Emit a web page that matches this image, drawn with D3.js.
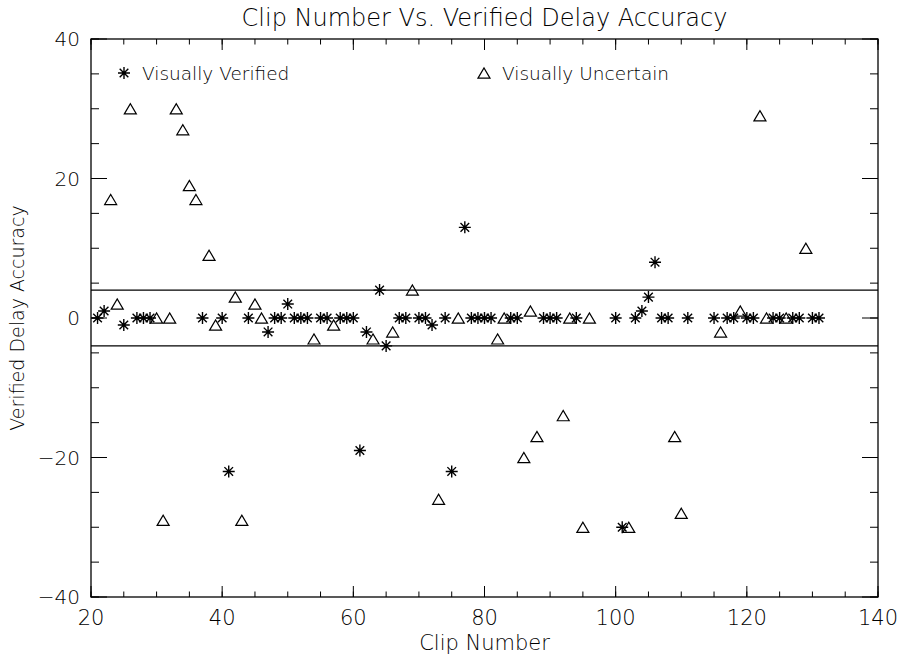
<!DOCTYPE html>
<html>
<head>
<meta charset="utf-8">
<script src="https://cdn.jsdelivr.net/npm/d3@7/dist/d3.min.js"></script>
<style>
  body { margin: 0; background: #fff; }
  text { font-family: "DejaVu Sans", sans-serif; font-weight: 200; fill: #000; }
</style>
</head>
<body>
<div id="chart"></div>
<script>
// clip numbers and delay accuracy
var verifiedClips = [21, 22, 25, 27, 28, 29, 37, 40, 41, 44, 47, 48, 49, 50, 51, 52, 53, 55, 56, 58, 59, 60,
  61, 62, 64, 65, 67, 68, 70, 71, 72, 74, 75, 77, 78, 79, 80, 81, 84, 85, 89, 90, 91, 94, 100, 101,
  103, 104, 105, 106, 107, 108, 111, 115, 117, 118, 120, 121, 124, 125, 127, 128, 130, 131];
var verifiedDelay = [0, 1, -1, 0, 0, 0, 0, 0, -22, 0, -2, 0, 0, 2, 0, 0, 0, 0, 0, 0, 0, 0,
  -19, -2, 4, -4, 0, 0, 0, 0, -1, 0, -22, 13, 0, 0, 0, 0, 0, 0, 0, 0, 0, 0, 0, -30,
  0, 1, 3, 8, 0, 0, 0, 0, 0, 0, 0, 0, 0, 0, 0, 0, 0, 0];

var uncertainClips = [23, 24, 26, 30, 31, 32, 33, 34, 35, 36, 38, 39, 42, 43, 45, 46, 54, 57, 63, 66, 69,
  73, 76, 82, 83, 86, 87, 88, 92, 93, 95, 96, 102, 109, 110, 116, 119, 122, 123, 126, 129];
var uncertainDelay = [17, 2, 30, 0, -29, 0, 30, 27, 19, 17, 9, -1, 3, -29, 2, 0, -3, -1, -3, -2, 4,
  -26, 0, -3, 0, -20, 1, -17, -14, 0, -30, 0, -30, -17, -28, -2, 1, 29, 0, 0, 10];

var xTicks = [20, 40, 60, 80, 100, 120, 140];
var yTicks = [-40, -20, 0, 20, 40];
var bandLimits = [-4, 4];
var legendLabels = ["Visually Verified", "Visually Uncertain"];

var W = 901, H = 658,
  margin = {top: 39, right: 23, bottom: 61, left: 91},
  width = W - margin.left - margin.right,
  height = H - margin.top - margin.bottom;

var svg = d3.select("#chart").append("svg")
  .attr("width", W)
  .attr("height", H);

var g = svg.append("g")
  .attr("transform", "translate(" + margin.left + "," + margin.top + ")");

var x = d3.scaleLinear().domain([20, 140]).range([0, width]);
var y = d3.scaleLinear().domain([-40, 40]).range([height, 0]);

var minorX = d3.range(20, 141, 5), minorY = d3.range(-40, 41, 5);

// frame
g.append("rect")
  .attr("width", width).attr("height", height)
  .attr("fill", "none").attr("stroke", "#000").attr("stroke-width", 1.3);

// inward ticks on all four sides
function tickLines(vals, isX, pos, len) {
  g.append("g").selectAll("line")
    .data(vals)
    .enter().append("line")
      .attr("x1", function(d) { return isX ? x(d) : pos; })
      .attr("x2", function(d) { return isX ? x(d) : pos + len; })
      .attr("y1", function(d) { return isX ? pos : y(d); })
      .attr("y2", function(d) { return isX ? pos + len : y(d); })
      .attr("stroke", "#000").attr("stroke-width", 1);
}
tickLines(minorX, true, height, -5.5);
tickLines(minorX, true, 0, 5.5);
tickLines(xTicks, true, height, -11);
tickLines(xTicks, true, 0, 11);
tickLines(minorY, false, 0, 8);
tickLines(minorY, false, width, -8);
tickLines(yTicks, false, 0, 16);
tickLines(yTicks, false, width, -16);

g.append("g").selectAll("text")
  .data(xTicks)
  .enter().append("text")
    .attr("x", function(d) { return x(d); })
    .attr("y", height + 28)
    .attr("text-anchor", "middle")
    .style("font-size", "21px")
    .text(function(d) { return d; });

g.append("g").selectAll("text")
  .data(yTicks)
  .enter().append("text")
    .attr("x", -11)
    .attr("y", function(d) { return y(d) + 7; })
    .attr("text-anchor", "end")
    .style("font-size", "20px")
    .text(function(d) { return d3.format("d")(d); });

// +/- 4 band
g.selectAll(".band")
  .data(bandLimits)
  .enter().append("line")
    .attr("class", "band")
    .attr("x1", 0).attr("x2", width)
    .attr("y1", function(d) { return y(d); })
    .attr("y2", function(d) { return y(d); })
    .attr("stroke", "#000").attr("stroke-width", 1.2);

// symbols
function asterisk(sel, s) {
  var p = "M" + (-s) + ",0H" + s + "M0," + (-s) + "V" + s +
    "M" + (-s * 0.72) + "," + (-s * 0.72) + "L" + (s * 0.72) + "," + (s * 0.72) +
    "M" + (-s * 0.72) + "," + (s * 0.72) + "L" + (s * 0.72) + "," + (-s * 0.72);
  sel.append("path").attr("d", p).attr("fill", "none").attr("stroke", "#000").attr("stroke-width", 1.4);
}
function triangle(sel, s) {
  sel.append("path")
    .attr("d", "M" + (-s) + "," + (s * 0.85) + "L0," + (-s * 0.85) + "L" + s + "," + (s * 0.85) + "Z")
    .attr("fill", "none").attr("stroke", "#000").attr("stroke-width", 1.2);
}

var verified = verifiedClips.map(function(c, i) { return {clip: c, delay: verifiedDelay[i]}; });
var uncertain = uncertainClips.map(function(c, i) { return {clip: c, delay: uncertainDelay[i]}; });

g.selectAll(".tri")
  .data(uncertain)
  .enter().append("g")
    .attr("class", "tri")
    .attr("transform", function(d) { return "translate(" + x(d.clip) + "," + y(d.delay) + ")"; })
    .each(function() { triangle(d3.select(this), 6); });

g.selectAll(".ast")
  .data(verified)
  .enter().append("g")
    .attr("class", "ast")
    .attr("transform", function(d) { return "translate(" + x(d.clip) + "," + y(d.delay) + ")"; })
    .each(function() { asterisk(d3.select(this), 6); });

// legend
var legend = svg.selectAll(".legend")
  .data(legendLabels)
  .enter().append("g")
    .attr("class", "legend")
    .attr("transform", function(d, i) { return "translate(" + (i ? 484 : 124) + ",73)"; });

legend.each(function(d, i) {
  if (i) triangle(d3.select(this), 6); else asterisk(d3.select(this), 6);
});
legend.append("text")
  .attr("x", 18)
  .attr("y", 7)
  .style("font-size", "18.5px")
  .text(function(d) { return d; });

// titles
svg.append("text")
  .attr("x", margin.left + width / 2)
  .attr("y", 26)
  .attr("text-anchor", "middle")
  .style("font-size", "24px")
  .text("Clip Number Vs. Verified Delay Accuracy");

svg.append("text")
  .attr("x", margin.left + width / 2)
  .attr("y", 650)
  .attr("text-anchor", "middle")
  .style("font-size", "21px")
  .text("Clip Number");

svg.append("text")
  .attr("transform", "translate(24," + (margin.top + height / 2) + ") rotate(-90)")
  .attr("text-anchor", "middle")
  .style("font-size", "19px")
  .text("Verified Delay Accuracy");
</script>
</body>
</html>
